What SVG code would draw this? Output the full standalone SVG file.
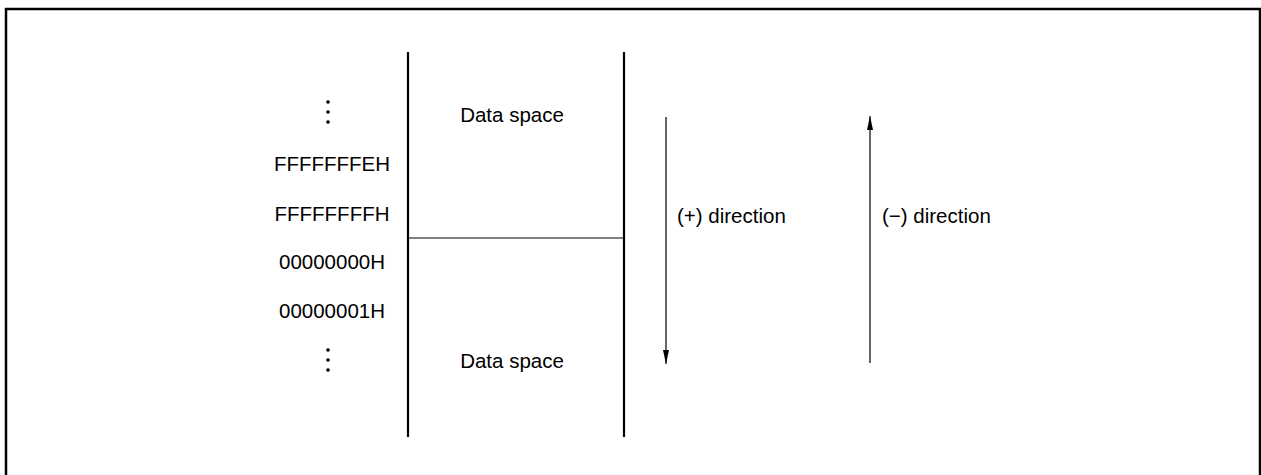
<svg xmlns="http://www.w3.org/2000/svg" width="1261" height="475" viewBox="0 0 1261 475">
<style>
.t{font-family:"Liberation Sans",Arial,sans-serif;font-size:20.5px;fill:#000}
.thick{stroke:#000;stroke-width:2.2;fill:none}
.thin{stroke:#000;stroke-width:1.2;fill:none}
.arr{stroke:#000;stroke-width:1.2;fill:none}
</style>
<defs>
<marker id="ah" markerWidth="14" markerHeight="6" refX="14" refY="3" orient="auto" markerUnits="userSpaceOnUse" viewBox="0 0 14 6">
<path d="M0,0 L14,3 L0,6 Z" fill="#000"/>
</marker>
</defs>
<rect x="6" y="9" width="1254" height="480" fill="#fff" stroke="#000" stroke-width="2.5"/>
<g id="memory-map">
<line class="thick" x1="408" y1="52" x2="408" y2="437"/>
<line class="thick" x1="624" y1="52" x2="624" y2="437"/>
<line class="thin" x1="408" y1="238" x2="624" y2="238"/>
<text class="t" x="512" y="122" text-anchor="middle">Data space</text>
<text class="t" x="512" y="368" text-anchor="middle">Data space</text>
</g>
<g id="addresses">
<circle cx="328" cy="102" r="1.8" fill="#000"/>
<circle cx="328" cy="112" r="1.8" fill="#000"/>
<circle cx="328" cy="122" r="1.8" fill="#000"/>
<text class="t" x="332" y="171" text-anchor="middle">FFFFFFFEH</text>
<text class="t" x="332" y="221" text-anchor="middle">FFFFFFFFH</text>
<text class="t" x="332" y="269" text-anchor="middle">00000000H</text>
<text class="t" x="332" y="318" text-anchor="middle">00000001H</text>
<circle cx="328" cy="350" r="1.8" fill="#000"/>
<circle cx="328" cy="360" r="1.8" fill="#000"/>
<circle cx="328" cy="370" r="1.8" fill="#000"/>
</g>
<g id="connectors">
<line class="arr" x1="666" y1="117" x2="666" y2="364" marker-end="url(#ah)"/>
<line class="arr" x1="870" y1="363" x2="870" y2="116" marker-end="url(#ah)"/>
</g>
<g id="labels">
<text class="t" x="677" y="223">(+) direction</text>
<text class="t" x="882" y="223">(−) direction</text>
</g>
</svg>
